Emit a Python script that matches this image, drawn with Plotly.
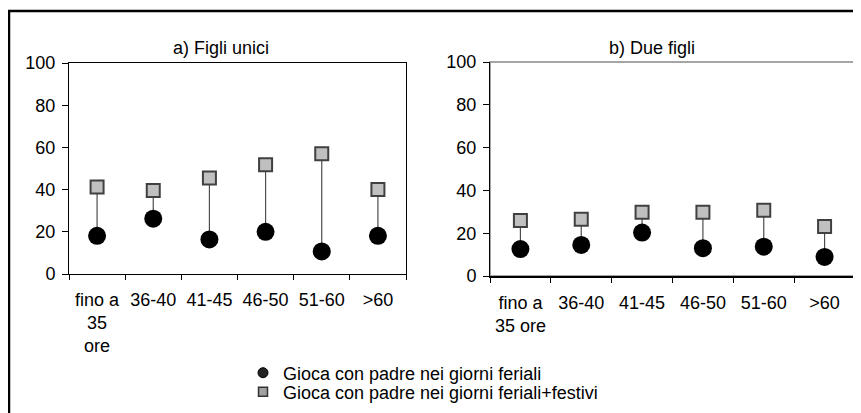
import plotly.graph_objects as go

W, H = 861, 413
OFF = 8  # page body margin offset

categories_a = ["fino a<br>35<br>ore", "36-40", "41-45", "46-50", "51-60", ">60"]
categories_b = ["fino a<br>35 ore", "36-40", "41-45", "46-50", "51-60", ">60"]

feriali_a = [18.1, 26.2, 16.4, 20.0, 10.7, 18.1]
festivi_a = [41.2, 39.6, 45.5, 51.8, 57.0, 40.0]
feriali_b = [12.6, 14.5, 20.3, 13.0, 13.7, 8.9]
festivi_b = [25.9, 26.5, 29.8, 29.8, 30.7, 23.1]

titles = ["a) Figli unici", "b) Due figli"]
legend_names = ["Gioca con padre nei giorni feriali",
                "Gioca con padre nei giorni feriali+festivi"]

FONT = "Liberation Sans, Arial, sans-serif"
FS = 18

def px_x(p):
    return (p - OFF) / W

def px_y(p):
    return 1 - (p - OFF) / H

fig = go.Figure()

def add_panel(cats, low, high, xa, ya):
    sx, sy = [], []
    for c, a, b in zip(cats, low, high):
        sx += [c, c, None]
        sy += [a, b, None]
    fig.add_trace(go.Scatter(x=sx, y=sy, mode="lines", xaxis=xa, yaxis=ya,
                             line=dict(color="#4d4d4d", width=1.2),
                             showlegend=False, hoverinfo="skip"))
    fig.add_trace(go.Scatter(x=cats, y=low, mode="markers", xaxis=xa, yaxis=ya,
                             marker=dict(symbol="circle", size=18, color="black",
                                         line=dict(width=0)),
                             showlegend=False))
    fig.add_trace(go.Scatter(x=cats, y=high, mode="markers", xaxis=xa, yaxis=ya,
                             marker=dict(symbol="square", size=13, color="#c0c0c0",
                                         line=dict(width=2, color="#404040")),
                             showlegend=False))

add_panel(categories_a, feriali_a, festivi_a, "x", "y")
add_panel(categories_b, feriali_b, festivi_b, "x2", "y2")

# legend-only traces
fig.add_trace(go.Scatter(x=[None], y=[None], mode="markers", name=legend_names[0],
                         legend="legend",
                         marker=dict(symbol="circle", size=10, color="#222222",
                                     line=dict(width=1, color="black"))))
fig.add_trace(go.Scatter(x=[None], y=[None], mode="markers", name=legend_names[1],
                         legend="legend2",
                         marker=dict(symbol="square", size=9, color="#a0a0a0",
                                     line=dict(width=1.5, color="#333333"))))

xcommon = dict(type="category", tickson="boundaries", ticks="outside", ticklen=5,
               tickcolor="black", showgrid=False, zeroline=False,
               tickfont=dict(family=FONT, size=FS, color="black"),
               ticklabelstandoff=9, range=[-0.5, 5.5], fixedrange=True)
ycommon = dict(range=[0, 100], dtick=20, ticks="outside", ticklen=6, tickcolor="black",
               showgrid=False, zeroline=False,
               tickfont=dict(family=FONT, size=FS, color="black"),
               ticklabelstandoff=3, showline=True, linecolor="black", linewidth=1)

legcommon = dict(xanchor="left", yanchor="middle",
                 font=dict(family=FONT, size=FS, color="black"),
                 bgcolor="rgba(0,0,0,0)", borderwidth=0, itemsizing="trace")

fig.update_layout(
    width=W, height=H,
    margin=dict(l=0, r=0, t=0, b=0, autoexpand=False),
    paper_bgcolor="white", plot_bgcolor="white",
    font=dict(family=FONT, size=FS, color="black"),
    xaxis=dict(domain=[px_x(69), px_x(406)], anchor="y",
               categoryarray=categories_a, categoryorder="array",
               showline=True, linecolor="black", linewidth=1, mirror=True, **xcommon),
    yaxis=dict(domain=[px_y(274), px_y(63)], anchor="x", mirror=True, **ycommon),
    xaxis2=dict(domain=[px_x(490), px_x(855)], anchor="y2",
                categoryarray=categories_b, categoryorder="array",
                showline=True, linecolor="black", linewidth=2, **xcommon),
    yaxis2=dict(domain=[px_y(276), px_y(62)], anchor="x2", **ycommon),
    legend=dict(x=px_x(243), y=px_y(373), **legcommon),
    legend2=dict(x=px_x(243), y=px_y(392), **legcommon),
    showlegend=True,
    annotations=[
        dict(text=titles[0], x=px_x(221), y=px_y(48), xref="paper", yref="paper",
             showarrow=False, xanchor="center", yanchor="middle",
             font=dict(family=FONT, size=FS, color="black")),
        dict(text=titles[1], x=px_x(652), y=px_y(48), xref="paper", yref="paper",
             showarrow=False, xanchor="center", yanchor="middle",
             font=dict(family=FONT, size=FS, color="black")),
    ],
    shapes=[
        # outer frame (extends past right/bottom edge as in reference)
        dict(type="rect", xref="paper", yref="paper",
             x0=px_x(9), x1=1.05, y0=-0.05, y1=px_y(11),
             line=dict(color="black", width=2.5), layer="above"),
        # grey frame for the right panel
        dict(type="rect", xref="x2 domain", yref="y2 domain", x0=0, x1=1, y0=0, y1=1,
             line=dict(color="#888888", width=1.5), layer="below"),
    ],
)

fig.write_html("out.html")
